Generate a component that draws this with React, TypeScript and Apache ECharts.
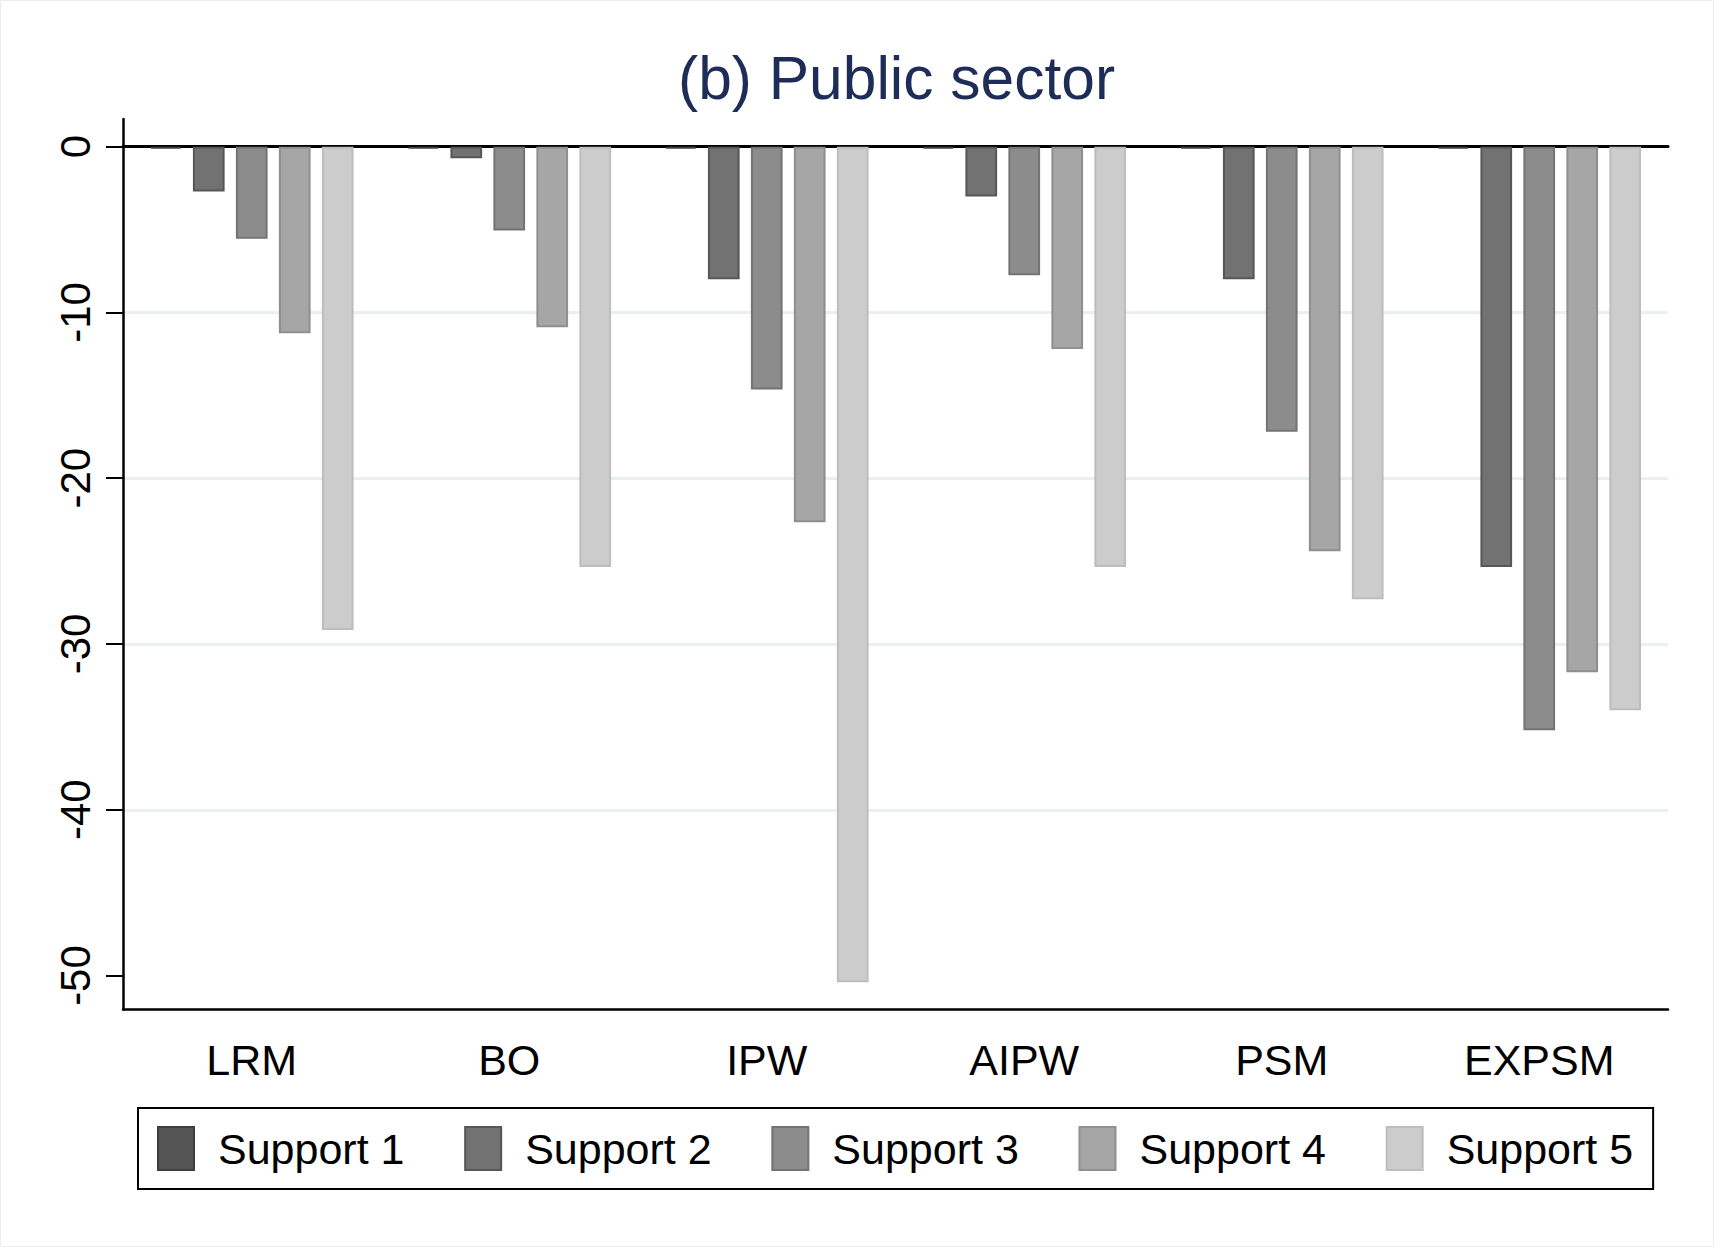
import React, { useEffect, useRef } from "react";
import * as echarts from "echarts";

const categories = ["LRM", "BO", "IPW", "AIPW", "PSM", "EXPSM"];
const seriesNames = ["Support 1", "Support 2", "Support 3", "Support 4", "Support 5"];
const support1 = [-0.1, -0.1, -0.1, -0.1, -0.1, -0.1];
const support2 = [-2.7, -0.7, -8.0, -3.0, -8.0, -25.35];
const support3 = [-5.55, -5.05, -14.65, -7.75, -17.2, -35.2];
const support4 = [-11.25, -10.9, -22.65, -12.2, -24.4, -31.7];
const support5 = [-29.15, -25.35, -50.4, -25.35, -27.3, -34.0];
const yTicks = [0, -10, -20, -30, -40, -50];
const fills = ["#555555", "#727272", "#8c8c8c", "#a6a6a6", "#cccccc"];
const borders = ["#404040", "#575757", "#737373", "#8f8f8f", "#bdbdbd"];

const FONT = "'Liberation Sans', Arial, Helvetica, sans-serif";

export default function App() {
  const ref = useRef<HTMLDivElement>(null);
  useEffect(() => {
    if (!ref.current) return;
    const chart = echarts.init(ref.current, null, { renderer: "svg" });
    const allData = [support1, support2, support3, support4, support5];
    const option: any = {
      animation: false,
      backgroundColor: "#ffffff",
      textStyle: { fontFamily: FONT },
      title: {
        text: "(b) Public sector",
        left: 678,
        top: 47,
        padding: 0,
        textStyle: { fontFamily: FONT, fontSize: 60.5, fontWeight: "normal", color: "#1e2c58" },
      },
      graphic: [
        {
          type: "rect",
          shape: { x: 0.5, y: 0.5, width: 1713, height: 1246 },
          style: { fill: "none", stroke: "#ececec", lineWidth: 1 },
          silent: true,
        },
      ],
      legend: {
        left: 138,
        top: 1108,
        orient: "horizontal",
        padding: [18, 20, 18, 19],
        borderColor: "#000000",
        borderWidth: 2,
        itemWidth: 36,
        itemHeight: 43,
        itemGap: 59.7,
        icon: "rect",
        selectedMode: false,
        data: seriesNames,
        textStyle: { fontFamily: FONT, fontSize: 43, color: "#000000", padding: [0, 0, 0, 19] },
      },
      grid: { left: 123, right: 46, top: 119, bottom: 237.5, containLabel: false },
      xAxis: [
        {
          type: "category",
          data: categories,
          position: "bottom",
          axisLine: { onZero: false, lineStyle: { color: "#000000", width: 2.5 } },
          axisTick: { alignWithLabel: true, length: 17, lineStyle: { color: "#000000", width: 2 } },
          axisLabel: { fontFamily: FONT, fontSize: 43, color: "#000000", margin: 29 },
          splitLine: { show: false },
        },
        {
          type: "category",
          data: categories,
          position: "bottom",
          axisLine: { show: true, onZero: true, lineStyle: { color: "#000000", width: 3 } },
          axisTick: { show: false },
          axisLabel: { show: false },
          splitLine: { show: false },
        },
      ],
      yAxis: {
        type: "value",
        min: -52.05,
        max: 1.67,
        splitNumber: 5,
        axisLine: { show: true, lineStyle: { color: "#000000", width: 2.5 } },
        axisTick: { show: true, length: 17, lineStyle: { color: "#000000", width: 2 }, customValues: yTicks },
        axisLabel: {
          fontFamily: FONT,
          fontSize: 42,
          color: "#000000",
          rotate: 90,
          margin: 27,
          customValues: yTicks,
        },
        splitLine: {
          show: true,
          showMinLine: false,
          showMaxLine: false,
          lineStyle: { color: "#e9f0f2", width: 3 },
        },
      },
      series: seriesNames.map((name, i) => ({
        name,
        type: "bar",
        xAxisIndex: 0,
        data: allData[i],
        barWidth: 31.7,
        barGap: "35.6%",
        barMinHeight: i === 0 ? 2 : 0,
        itemStyle: { color: fills[i], borderColor: borders[i], borderWidth: 2 },
        emphasis: { disabled: true },
      })),
    };
    chart.setOption(option);
    return () => chart.dispose();
  }, []);
  return (
    <div
      ref={ref}
      style={{ position: "fixed", left: 0, top: 0, width: 1714, height: 1247, background: "#fff" }}
    />
  );
}
